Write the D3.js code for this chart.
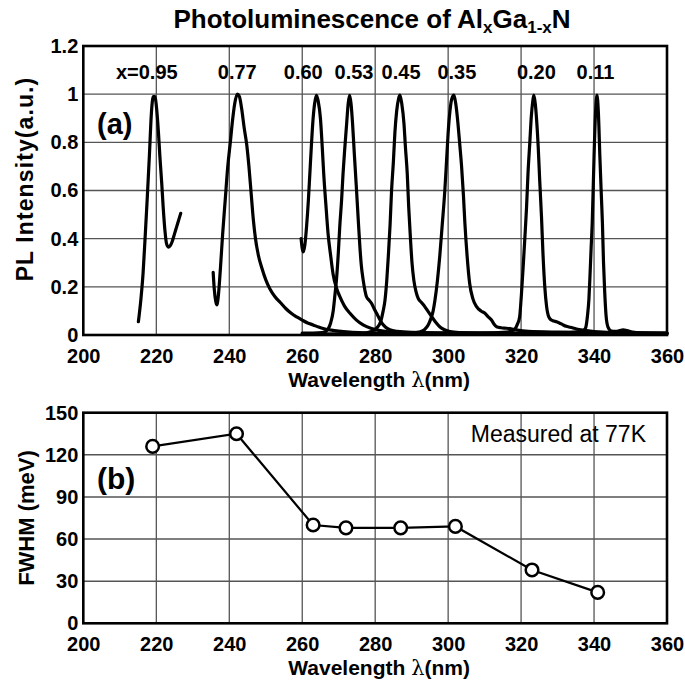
<!DOCTYPE html>
<html><head><meta charset="utf-8">
<script src="https://cdn.jsdelivr.net/npm/d3@7"></script>
<style>body{margin:0;background:#fff}svg{display:block}</style>
</head><body>
<svg id="chart" width="685" height="683"></svg>
<script>
// ---------- data ----------
const xTicks = [200, 220, 240, 260, 280, 300, 320, 340, 360];
const yTicksA = [0, 0.2, 0.4, 0.6, 0.8, 1, 1.2];
const yTickLabelsA = ["0", "0.2", "0.4", "0.6", "0.8", "1", "1.2"];
const yTicksB = [0, 30, 60, 90, 120, 150];

const compositionLabels = ["x=0.95", "0.77", "0.60", "0.53", "0.45", "0.35", "0.20", "0.11"];
const compositionLabelNm = [217.4, 242.2, 260.3, 274.2, 287.1, 302.4, 324.2, 340.4];

const spec095 = [[215.1,0.055],[215.8,0.15],[216.4,0.26],[217.0,0.42],[217.5,0.56],[218.1,0.74],[218.7,0.93],[219.2,0.99],[219.6,0.99],[220.1,0.94],[220.6,0.84],[221.0,0.74],[221.5,0.63],[221.9,0.53],[222.4,0.43],[222.8,0.38],[223.3,0.365],[223.8,0.37],[224.3,0.385],[225.0,0.42],[225.6,0.45],[226.2,0.48],[226.7,0.505]];
const spec077 = [[235.6,0.26],[235.9,0.19],[236.3,0.14],[236.6,0.125],[237.0,0.16],[237.6,0.28],[238.2,0.42],[238.9,0.56],[239.6,0.70],[240.3,0.80],[240.9,0.89],[241.5,0.96],[242.2,1.0],[242.8,0.99],[243.4,0.94],[244.1,0.86],[244.8,0.79],[245.4,0.70],[246.0,0.59],[246.6,0.48],[247.2,0.40],[248.0,0.33],[248.9,0.28],[250.0,0.23],[251.2,0.19],[252.5,0.16],[254.0,0.135],[255.5,0.11],[257.0,0.09],[258.5,0.075],[260.0,0.062],[261.5,0.05],[263.0,0.042],[264.5,0.033],[266.0,0.026],[268.0,0.02],[270.0,0.016],[273.0,0.012],[277.0,0.009],[282.0,0.007],[290.0,0.005],[300.0,0.004]];
const spec060 = [[259.7,0.40],[260.0,0.36],[260.3,0.345],[260.7,0.37],[261.2,0.45],[261.7,0.56],[262.1,0.67],[262.5,0.78],[262.9,0.88],[263.4,0.96],[263.9,0.995],[264.4,0.97],[265.0,0.90],[265.5,0.78],[265.9,0.67],[266.5,0.54],[267.1,0.42],[267.8,0.33],[268.5,0.25],[269.4,0.195],[270.3,0.16],[271.6,0.12],[273.1,0.09],[274.8,0.063],[276.7,0.042],[279.0,0.027],[281.3,0.018],[284.0,0.013],[288.0,0.01],[295.0,0.008],[305.0,0.007],[320.0,0.006]];
const spec053 = [[260.0,0.008],[263.0,0.008],[265.5,0.01],[266.5,0.015],[267.1,0.025],[267.8,0.05],[268.5,0.10],[269.0,0.17],[269.4,0.23],[269.9,0.34],[270.3,0.45],[270.8,0.56],[271.2,0.67],[271.7,0.78],[272.2,0.88],[272.6,0.96],[273.0,0.995],[273.4,0.96],[273.8,0.88],[274.3,0.75],[274.9,0.60],[275.4,0.47],[275.8,0.37],[276.2,0.29],[276.7,0.23],[277.2,0.185],[277.6,0.16],[278.3,0.145],[279.0,0.132],[279.7,0.11],[280.4,0.09],[281.1,0.07],[281.8,0.05],[282.8,0.033],[284.0,0.022],[286.0,0.015],[290.0,0.011],[300.0,0.009],[320.0,0.007],[340.0,0.006]];
const spec045 = [[260.0,0.004],[270.0,0.005],[276.0,0.007],[279.0,0.015],[280.5,0.03],[281.5,0.055],[282.2,0.10],[282.7,0.145],[283.2,0.23],[283.6,0.325],[284.1,0.46],[284.5,0.60],[285.0,0.72],[285.4,0.837],[285.9,0.93],[286.4,0.98],[286.8,0.996],[287.3,0.96],[287.9,0.878],[288.3,0.78],[288.8,0.67],[289.2,0.53],[289.7,0.394],[290.1,0.30],[290.6,0.228],[291.2,0.18],[291.8,0.152],[292.7,0.135],[293.6,0.118],[294.5,0.098],[295.5,0.076],[296.6,0.053],[297.7,0.034],[299.0,0.022],[300.5,0.014],[303.0,0.01],[310.0,0.008],[330.0,0.006],[360.0,0.005]];
const spec035 = [[270.0,0.004],[285.0,0.005],[290.0,0.008],[292.0,0.012],[293.5,0.022],[294.5,0.04],[295.2,0.065],[295.9,0.10],[296.4,0.145],[297.1,0.23],[297.7,0.325],[298.4,0.46],[299.1,0.60],[299.6,0.73],[300.0,0.837],[300.5,0.93],[301.0,0.98],[301.6,0.996],[302.1,0.96],[302.7,0.878],[303.2,0.79],[303.7,0.698],[304.2,0.58],[304.6,0.464],[305.2,0.33],[305.9,0.215],[306.8,0.15],[307.8,0.118],[309.0,0.10],[310.1,0.09],[311.0,0.075],[311.9,0.062],[312.6,0.045],[313.3,0.034],[314.5,0.03],[316.0,0.028],[317.5,0.025],[319.0,0.02],[322.0,0.015],[330.0,0.012],[345.0,0.01],[360.0,0.008]];
const spec020 = [[300.0,0.006],[310.0,0.008],[316.0,0.012],[318.0,0.02],[319.0,0.045],[319.6,0.075],[320.1,0.17],[320.6,0.29],[321.0,0.394],[321.5,0.53],[321.9,0.671],[322.4,0.80],[322.8,0.906],[323.2,0.97],[323.5,0.996],[323.9,0.96],[324.2,0.906],[324.7,0.78],[325.1,0.644],[325.6,0.49],[326.0,0.339],[326.5,0.2],[327.0,0.118],[327.6,0.075],[328.3,0.062],[329.0,0.058],[329.7,0.055],[330.5,0.05],[331.5,0.042],[332.4,0.036],[333.5,0.032],[335.2,0.025],[337.0,0.02],[340.0,0.014],[345.0,0.01],[360.0,0.008]];
const spec011 = [[320.0,0.005],[330.0,0.008],[335.0,0.012],[337.0,0.018],[337.7,0.03],[338.2,0.08],[338.6,0.15],[338.9,0.25],[339.2,0.36],[339.5,0.464],[340.0,0.74],[340.4,0.92],[340.8,0.996],[341.2,0.92],[341.6,0.74],[342.0,0.58],[342.3,0.464],[342.6,0.30],[342.9,0.187],[343.3,0.08],[343.8,0.034],[344.8,0.016],[346.0,0.015],[347.0,0.018],[348.0,0.021],[349.0,0.018],[350.5,0.012],[353.0,0.008],[356.0,0.007],[360.0,0.006]];

const fwhmWavelength = [219, 242, 263, 272, 287, 302, 323, 341];
const fwhmValues = [126, 135, 70, 68, 68, 69, 38, 22];

// ---------- layout ----------
const FONT = "'Liberation Sans', Arial, Helvetica, sans-serif";
const svg = d3.select("#chart").style("font-family", FONT);
svg.append("rect").attr("width", 685).attr("height", 683).attr("fill", "#fff");

const x = d3.scaleLinear().domain([200, 360]).range([83.3, 667]);
const yA = d3.scaleLinear().domain([0, 1.2]).range([335, 46]);
const yB = d3.scaleLinear().domain([0, 150]).range([623.3, 412.7]);

function grid(g, y, yt) {
  g.selectAll("line.v").data(xTicks.slice(1, -1)).join("line")
    .attr("x1", d => x(d)).attr("x2", d => x(d))
    .attr("y1", y.range()[0]).attr("y2", y.range()[1])
    .attr("stroke", "#222").attr("stroke-width", 1);
  g.selectAll("line.h").data(yt.slice(1, -1)).join("line")
    .attr("x1", x(200)).attr("x2", x(360))
    .attr("y1", d => y(d)).attr("y2", d => y(d))
    .attr("stroke", "#555").attr("stroke-width", 1.4);
}
function axes(g, y, yt, fmt) {
  const ax = g.append("g").attr("transform", `translate(0,${y.range()[0]})`)
    .call(d3.axisBottom(x).tickValues(xTicks).tickSize(0).tickPadding(14).tickFormat(d3.format("d")));
  ax.select(".domain").remove();
  ax.selectAll("text").attr("font-size", 20).attr("font-weight", "bold").attr("fill", "#000").attr("font-family", FONT);
  const ay = g.append("g").attr("transform", `translate(${x(200)},0)`)
    .call(d3.axisLeft(y).tickValues(yt).tickSize(0).tickPadding(5).tickFormat(fmt));
  ay.select(".domain").remove();
  ay.selectAll("text").attr("font-size", 20).attr("font-weight", "bold").attr("fill", "#000").attr("font-family", FONT);
  g.append("rect").attr("x", x(200)).attr("y", y.range()[1])
    .attr("width", x(360) - x(200)).attr("height", y.range()[0] - y.range()[1])
    .attr("fill", "none").attr("stroke", "#000").attr("stroke-width", 2.6);
  const t = g.append("text").attr("x", (x(200) + x(360)) / 2 + 4).attr("y", y.range()[0] + 52)
    .attr("text-anchor", "middle").attr("font-size", 21).attr("font-weight", "bold");
  t.append("tspan").text("Wavelength ");
  t.append("tspan").attr("font-weight", "normal").attr("font-family", "'DejaVu Serif', serif").text("λ");
  t.append("tspan").text("(nm)");
}

// ---------- panel (a) ----------
const gA = svg.append("g");
grid(gA, yA, yTicksA);
const line = d3.line().x(d => x(d[0])).y(d => yA(d[1])).curve(d3.curveMonotoneX);
const spectra = [spec095, spec077, spec060, spec053, spec045, spec035, spec020, spec011];
gA.selectAll("path.spec").data(spectra).join("path")
  .attr("d", line).attr("fill", "none").attr("stroke", "#000")
  .attr("stroke-width", 3.2).attr("stroke-linejoin", "round").attr("stroke-linecap", "round");
axes(gA, yA, yTicksA, (d, i) => yTickLabelsA[i]);
gA.selectAll("text.comp").data(compositionLabels).join("text")
  .attr("x", (d, i) => x(compositionLabelNm[i])).attr("y", yA(1.063))
  .attr("text-anchor", "middle").attr("font-size", 20).attr("font-weight", "bold").text(d => d);
gA.append("text").attr("x", 97).attr("y", 134).attr("font-size", 29).attr("font-weight", "bold").text("(a)");
gA.append("text").attr("transform", "translate(33,179) rotate(-90)").attr("text-anchor", "middle")
  .attr("font-size", 23).attr("font-weight", "bold").attr("letter-spacing", 1.1).text("PL Intensity(a.u.)");

// title
const title = svg.append("text").attr("x", 372).attr("y", 28).attr("text-anchor", "middle")
  .attr("font-size", 26).attr("font-weight", "bold");
title.append("tspan").text("Photoluminescence of Al");
title.append("tspan").attr("font-size", 17).attr("dy", 5).text("x");
title.append("tspan").attr("dy", -5).text("Ga");
title.append("tspan").attr("font-size", 17).attr("dy", 5).text("1-x");
title.append("tspan").attr("dy", -5).text("N");

// ---------- panel (b) ----------
const gB = svg.append("g");
grid(gB, yB, yTicksB);
const pts = fwhmWavelength.map((w, i) => [w, fwhmValues[i]]);
gB.append("path").datum(pts)
  .attr("d", d3.line().x(d => x(d[0])).y(d => yB(d[1])))
  .attr("fill", "none").attr("stroke", "#000").attr("stroke-width", 2.2);
gB.selectAll("circle").data(pts).join("circle")
  .attr("cx", d => x(d[0])).attr("cy", d => yB(d[1])).attr("r", 6.3)
  .attr("fill", "#fff").attr("stroke", "#000").attr("stroke-width", 2.5);
axes(gB, yB, yTicksB, d3.format("d"));
gB.append("text").attr("x", 97).attr("y", 489).attr("font-size", 30).attr("font-weight", "bold").text("(b)");
gB.append("text").attr("x", 646).attr("y", 442).attr("text-anchor", "end").attr("font-size", 23).text("Measured at 77K");
gB.append("text").attr("transform", "translate(34,518) rotate(-90)").attr("text-anchor", "middle")
  .attr("font-size", 22).attr("font-weight", "bold").text("FWHM (meV)");
</script>
</body></html>
